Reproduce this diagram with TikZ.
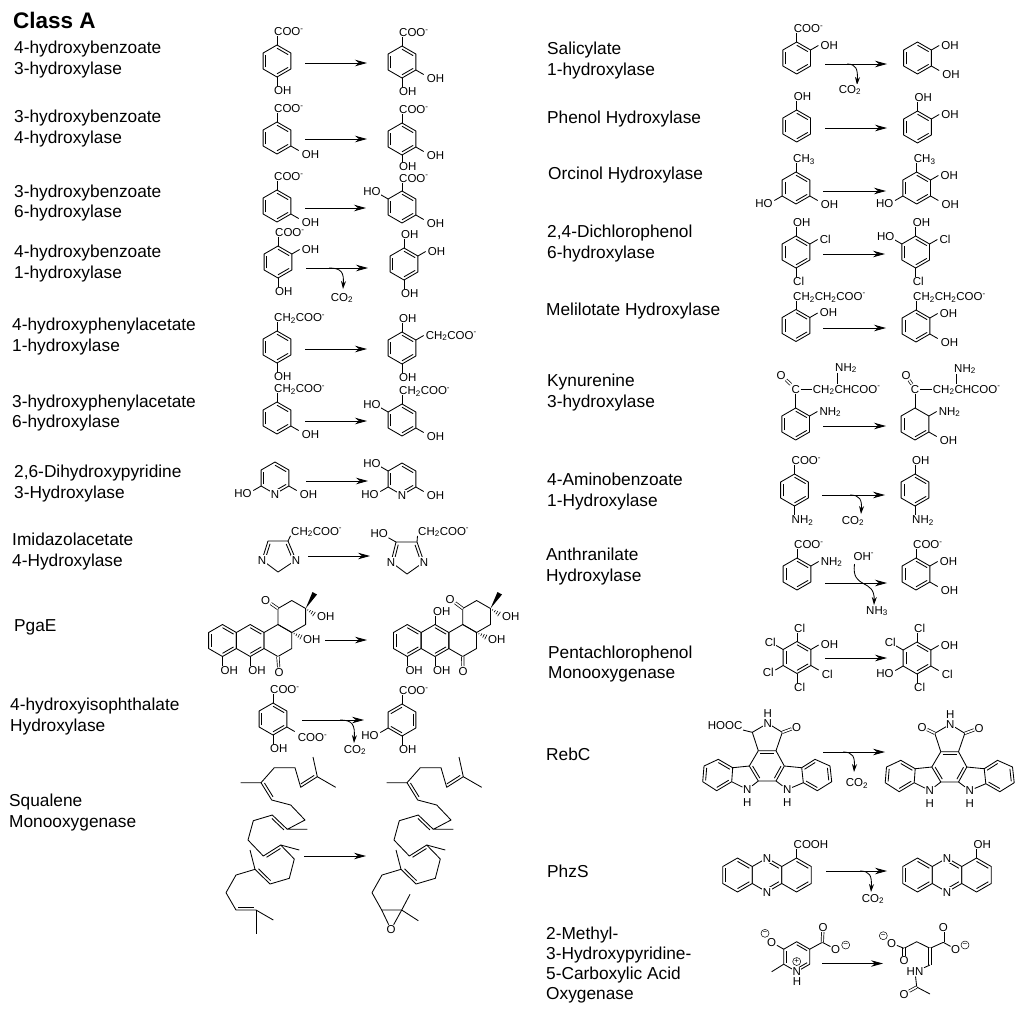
\documentclass[tikz,border=0pt]{standalone}
\usepackage{fontspec}
\setmainfont{Liberation Sans}
\usetikzlibrary{arrows.meta,calc}

\tikzset{
  bond/.style={line width=.85pt,line join=round},
  dbond/.style={line width=.7pt,double,double distance=1.7pt},
  rxnarrow/.style={line width=.85pt,-{Stealth[length=12pt,width=6.5pt]}},
  sidearrow/.style={line width=.85pt,-{Stealth[length=8pt,width=5pt]}},
  atom/.style={fill=white,inner sep=.5pt,text height=8.2pt,text depth=0pt,font=\fontsize{11.5}{11.5}\selectfont},
  chg/.style={circle,draw,fill=white,line width=.5pt,inner sep=0pt,minimum size=8pt,font=\fontsize{8}{8}\selectfont},
  enzyme/.style={anchor=west,align=left,inner sep=0pt,yshift=-1.5pt,font=\fontsize{17.3}{20.2}\selectfont},
  lab1/.style={anchor=south west,xshift=-3.5pt,yshift=-.5pt},
  lab2/.style={anchor=west,xshift=1.5pt,yshift=.5pt},
  lab3/.style={anchor=west,xshift=2.5pt,yshift=-4pt},
  lab4/.style={anchor=north west,xshift=-3.5pt},
  lab5/.style={anchor=east,xshift=-1pt,yshift=-2.5pt},
  lab6/.style={anchor=east,xshift=1pt,yshift=3pt}
}

\newcommand{\coo}{COO\textsuperscript{-}}
\newcommand{\chcoo}{CH\textsubscript{2}COO\textsuperscript{-}}
\newcommand{\cotwo}{CO\textsubscript{2}}

\newcommand{\hexa}[4][16]{
  \coordinate (#2) at (#3,#4);
  \foreach \i in {1,...,6}
    \coordinate (#2-\i) at ({#3+#1*sin(60*(\i-1))},{#4-#1*cos(60*(\i-1))});
  \draw[bond] (#2-1) -- (#2-2) -- (#2-3) -- (#2-4) -- (#2-5) -- (#2-6) -- cycle;
}
\newcommand{\benzring}[5][16]{
  \hexa[#1]{#2}{#3}{#4}
  \foreach \i/\j in {#5}
    \draw[bond] ($(#2)!.8!(#2-\i)$) -- ($(#2)!.8!(#2-\j)$);
}
\newcommand{\atomat}[5][]{
  \path (#3-#4) ++({60*(#4-1)-90}:9) coordinate (#2-end);
  \draw[bond] (#3-#4) -- (#2-end);
  \node[atom,lab#4,#1] (#2) at (#2-end) {#5};
}
\newcommand{\rxn}[4]{
  \coordinate (#1-a) at (#2,#4);
  \coordinate (#1-b) at (#3,#4);
  \draw[rxnarrow] (#1-a) -- (#1-b);
}
\newcommand{\sidearr}[5]{
  \coordinate (#1-a) at (#2,#3);
  \coordinate (#1-b) at (#4,#5);
  \draw[sidearrow] (#1-a) .. controls (#4-1,#3) and (#4+1,#3+5) .. (#1-b);
}
\newcommand{\dblin}[3]{
  \draw[bond] ($(#1)!.1!(#2)!2.8pt!#3:(#2)$) -- ($(#1)!.9!(#2)!2.8pt!#3:(#2)$);
}
\newcommand{\hashw}[4]{
  \foreach \t in {.25,.5,.75,1}
    \draw[line width=.6pt] ({#1+\t*(#3-#1)-\t*.25*(#4-#2)},{#2+\t*(#4-#2)+\t*.25*(#3-#1)})
      -- ({#1+\t*(#3-#1)+\t*.25*(#4-#2)},{#2+\t*(#4-#2)-\t*.25*(#3-#1)});
}
\newcommand{\squalene}{
  \draw[bond] (313,757) -- (317.3,776.7) -- (335.7,787.3);
  \draw[bond] (317.3,776.7) -- (300.7,787.3) -- (295,767.7) -- (274.3,767.7) -- (261,782.7) -- (240.7,782.7);
  \draw[bond] (261,782.7) -- (271.7,800) -- (290.7,805) -- (305,820) -- (287.3,829.3) -- (307.3,829.3);
  \draw[bond] (287.3,829.3) -- (272.3,815) -- (253.3,820.7) -- (248,840) -- (263.3,856) -- (280.7,845) -- (299.3,850);
  \draw[bond] (280.7,845) -- (294.3,859) -- (289.3,878.3) -- (270,884) -- (255,869.3) -- (250,850);
  \draw[bond] (255,869.3) -- (236,875) -- (226,892.7);
  \dblin{317.3,776.7}{300.7,787.3}{-90}
  \dblin{261,782.7}{271.7,800}{90}
  \dblin{287.3,829.3}{272.3,815}{90}
  \dblin{263.3,856}{280.7,845}{-90}
  \dblin{270,884}{255,869.3}{-90}
}
\newcommand{\rebcore}[1]{
  \coordinate (#1-c1) at (758.3,750.7);
  \coordinate (#1-c2) at (776,750.7);
  \coordinate (#1-c3) at (784.3,766);
  \coordinate (#1-c4) at (776,781);
  \coordinate (#1-c5) at (758.3,781);
  \coordinate (#1-c6) at (749.3,766);
  \coordinate (#1-l1) at (718.3,759.3);
  \coordinate (#1-l2) at (732.7,767.7);
  \coordinate (#1-l3) at (731.7,781.7);
  \coordinate (#1-l4) at (716.7,790.7);
  \coordinate (#1-l5) at (702.7,781.7);
  \coordinate (#1-l6) at (704,766);
  \coordinate (#1-r1) at (815,759.3);
  \coordinate (#1-r2) at (830,766);
  \coordinate (#1-r3) at (831.7,781.7);
  \coordinate (#1-r4) at (817.3,790.7);
  \coordinate (#1-r5) at (803.3,782.7);
  \coordinate (#1-r6) at (801.7,767.7);
  \coordinate (#1-t1) at (752.3,732.3);
  \coordinate (#1-t2) at (767.7,723.3);
  \coordinate (#1-t3) at (782.3,732.3);
  \draw[bond] (#1-c1) -- (#1-c2) -- (#1-c3) -- (#1-c4) -- (#1-c5) -- (#1-c6) -- cycle;
  \draw[bond] (#1-l1) -- (#1-l2) -- (#1-l3) -- (#1-l4) -- (#1-l5) -- (#1-l6) -- cycle;
  \draw[bond] (#1-r1) -- (#1-r2) -- (#1-r3) -- (#1-r4) -- (#1-r5) -- (#1-r6) -- cycle;
  \draw[bond] (#1-c1) -- (#1-t1) -- (#1-t2) -- (#1-t3) -- (#1-c2);
  \draw[bond] (#1-l2) -- (#1-c6);
  \draw[bond] (#1-r6) -- (#1-c3);
  \dblin{#1-c1}{#1-c2}{-90}
  \dblin{#1-c6}{#1-c5}{90}
  \dblin{#1-c3}{#1-c4}{-90}
  \dblin{#1-l1}{#1-l2}{-90}
  \dblin{#1-l3}{#1-l4}{-90}
  \dblin{#1-l5}{#1-l6}{-90}
  \dblin{#1-r1}{#1-r6}{90}
  \dblin{#1-r2}{#1-r3}{-90}
  \dblin{#1-r4}{#1-r5}{-90}
  \node[atom] (#1-nl) at (747.3,789.5) {N};
  \node[atom] (#1-hl) at (747.3,802) {H};
  \node[atom] (#1-nr) at (787.3,789.5) {N};
  \node[atom] (#1-hr) at (787.3,802) {H};
  \draw[bond] (#1-c5) -- (#1-nl) -- (#1-l3);
  \draw[bond] (#1-c4) -- (#1-nr) -- (#1-r5);
  \node[atom] (#1-nt) at (767.7,723.3) {N};
  \node[atom] (#1-ht) at (767.7,713) {H};
  \node[atom] (#1-or) at (796.7,727) {O};
  \draw[dbond] (#1-t3) -- (#1-or);
}

\begin{document}
\begin{tikzpicture}[x=1pt,y=-1pt]
    \useasboundingbox (0,0) rectangle (1024,1013);

    \node[anchor=west,inner sep=0pt,font=\fontsize{22.5}{24}\selectfont\bfseries] (title) at (13,20) {Class A};

    \node[enzyme] (e-a1) at (14,58) {4-hydroxybenzoate\\3-hydroxylase};
    \node[enzyme] (e-a2) at (14,127) {3-hydroxybenzoate\\4-hydroxylase};
    \node[enzyme] (e-a3) at (14,201.5) {3-hydroxybenzoate\\6-hydroxylase};
    \node[enzyme] (e-a4) at (14,262) {4-hydroxybenzoate\\1-hydroxylase};
    \node[enzyme] (e-a5) at (12,335) {4-hydroxyphenylacetate\\1-hydroxylase};
    \node[enzyme] (e-a6) at (12,411.5) {3-hydroxyphenylacetate\\6-hydroxylase};
    \node[enzyme] (e-a7) at (14,482) {2,6-Dihydroxypyridine\\3-Hydroxylase};
    \node[enzyme] (e-a8) at (12,550) {Imidazolacetate\\4-Hydroxylase};
    \node[enzyme] (e-a9) at (14,626) {PgaE};
    \node[enzyme] (e-a10) at (10,715) {4-hydroxyisophthalate\\Hydroxylase};
    \node[enzyme] (e-a11) at (9,811) {Squalene\\Monooxygenase};

    \node[enzyme] (e-b1) at (547,59) {Salicylate\\1-hydroxylase};
    \node[enzyme] (e-b2) at (547,118) {Phenol Hydroxylase};
    \node[enzyme] (e-b3) at (548,174) {Orcinol Hydroxylase};
    \node[enzyme] (e-b4) at (547,242) {2,4-Dichlorophenol\\6-hydroxylase};
    \node[enzyme] (e-b5) at (546,310) {Melilotate Hydroxylase};
    \node[enzyme] (e-b6) at (547,391) {Kynurenine\\3-hydroxylase};
    \node[enzyme] (e-b7) at (547,490) {4-Aminobenzoate\\1-Hydroxylase};
    \node[enzyme] (e-b8) at (546,565) {Anthranilate\\Hydroxylase};
    \node[enzyme] (e-b9) at (548,662.5) {Pentachlorophenol\\Monooxygenase};
    \node[enzyme] (e-b10) at (546,753) {RebC};
    \node[enzyme] (e-b11) at (547,870) {PhzS};
    \node[enzyme] (e-b12) at (546,963.5) {2-Methyl-\\3-Hydroxypyridine-\\5-Carboxylic Acid\\Oxygenase};

    \benzring{a1s}{277}{61}{1/2,3/4,5/6}
    \atomat{a1s-coo}{a1s}{1}{\coo}
    \atomat{a1s-oh}{a1s}{4}{OH}
    \rxn{a1}{305}{367}{63}
    \benzring{a1p}{402}{62}{1/2,3/4,5/6}
    \atomat{a1p-coo}{a1p}{1}{\coo}
    \atomat{a1p-oh3}{a1p}{3}{OH}
    \atomat{a1p-oh4}{a1p}{4}{OH}

    \benzring{a2s}{277}{138}{1/2,3/4,5/6}
    \atomat{a2s-coo}{a2s}{1}{\coo}
    \atomat{a2s-oh}{a2s}{3}{OH}
    \rxn{a2}{305}{367}{139}
    \benzring{a2p}{402}{139}{1/2,3/4,5/6}
    \atomat{a2p-coo}{a2p}{1}{\coo}
    \atomat{a2p-oh3}{a2p}{3}{OH}
    \atomat[yshift=2.5pt]{a2p-oh4}{a2p}{4}{OH}

    \benzring{a3s}{277}{206}{1/2,3/4,5/6}
    \atomat{a3s-coo}{a3s}{1}{\coo}
    \atomat{a3s-oh}{a3s}{3}{OH}
    \rxn{a3}{305}{366}{208}
    \benzring{a3p}{402}{207}{1/2,3/4,5/6}
    \atomat[yshift=-.5pt]{a3p-coo}{a3p}{1}{\coo}
    \atomat{a3p-ho}{a3p}{6}{HO}
    \atomat{a3p-oh}{a3p}{3}{OH}

    \benzring{a4s}{278}{262}{1/2,3/4,5/6}
    \atomat{a4s-coo}{a4s}{1}{\coo}
    \atomat{a4s-oh2}{a4s}{2}{OH}
    \atomat{a4s-oh4}{a4s}{4}{OH}
    \rxn{a4}{306}{368}{268}
    \sidearr{a4c}{329}{268}{343}{289}
    \node[atom] (a4-co) at (342,297) {\cotwo};
    \benzring{a4p}{404}{264}{1/2,3/4,5/6}
    \atomat{a4p-oh1}{a4p}{1}{OH}
    \atomat{a4p-oh2}{a4p}{2}{OH}
    \atomat{a4p-oh4}{a4p}{4}{OH}

    \benzring{a5s}{277}{347}{1/2,3/4,5/6}
    \atomat{a5s-ch}{a5s}{1}{\chcoo}
    \atomat{a5s-oh}{a5s}{4}{OH}
    \rxn{a5}{305}{367}{349}
    \benzring{a5p}{402}{348}{1/2,3/4,5/6}
    \atomat{a5p-oh1}{a5p}{1}{OH}
    \atomat{a5p-ch}{a5p}{2}{\chcoo}
    \atomat{a5p-oh4}{a5p}{4}{OH}

    \benzring{a6s}{277}{418}{1/2,3/4,5/6}
    \atomat{a6s-ch}{a6s}{1}{\chcoo}
    \atomat{a6s-oh}{a6s}{3}{OH}
    \rxn{a6}{305}{367}{421}
    \benzring{a6p}{402}{420}{1/2,3/4,5/6}
    \atomat{a6p-ch}{a6p}{1}{\chcoo}
    \atomat{a6p-ho}{a6p}{6}{HO}
    \atomat{a6p-oh}{a6p}{3}{OH}

    \benzring{a7s}{275}{478}{1/2,3/4,5/6}
    \node[atom] (a7s-n) at (275,494) {N};
    \atomat{a7s-ho}{a7s}{5}{HO}
    \atomat{a7s-oh}{a7s}{3}{OH}
    \rxn{a7}{306}{368}{481}
    \benzring{a7p}{402}{479}{1/2,3/4,5/6}
    \node[atom] (a7p-n) at (402,495) {N};
    \atomat{a7p-ho6}{a7p}{6}{HO}
    \atomat{a7p-ho5}{a7p}{5}{HO}
    \atomat{a7p-oh}{a7p}{3}{OH}

    \coordinate (a8s-a) at (268,541);
    \coordinate (a8s-b) at (288,541);
    \coordinate (a8s-c) at (296,560);
    \coordinate (a8s-d) at (278,572);
    \coordinate (a8s-e) at (262,560);
    \draw[bond] (a8s-a) -- (a8s-b) -- (a8s-c) -- (a8s-d) -- (a8s-e) -- cycle;
    \dblin{a8s-a}{a8s-e}{90}
    \dblin{a8s-b}{a8s-c}{-90}
    \node[atom] (a8s-n1) at (262,560) {N};
    \node[atom] (a8s-n2) at (296,560) {N};
    \node[atom,anchor=west] (a8s-ch) at (290.5,531) {\chcoo};
    \draw[bond] (a8s-b) -- (a8s-ch.south west);
    \rxn{a8}{308}{370}{556}
    \coordinate (a8p-a) at (396,542);
    \coordinate (a8p-b) at (417,542);
    \coordinate (a8p-c) at (424,562);
    \coordinate (a8p-d) at (407,574);
    \coordinate (a8p-e) at (391,562);
    \draw[bond] (a8p-a) -- (a8p-b) -- (a8p-c) -- (a8p-d) -- (a8p-e) -- cycle;
    \dblin{a8p-a}{a8p-e}{90}
    \dblin{a8p-b}{a8p-c}{-90}
    \node[atom] (a8p-n1) at (391,562) {N};
    \node[atom] (a8p-n2) at (424,562) {N};
    \node[atom,anchor=west] (a8p-ch) at (417.5,531) {\chcoo};
    \node[atom,anchor=east] (a8p-ho) at (388.5,533) {HO};
    \draw[bond] (a8p-b) -- (a8p-ch.south west);
    \draw[bond] (a8p-a) -- (a8p-ho.south east);

    \benzring{p1a}{222.5}{640.5}{1/2,3/4,5/6}
    \benzring{p1b}{250.2}{640.5}{1/2,3/4}
    \hexa{p1c}{277.9}{640.5}
    \hexa{p1d}{291.8}{616.5}
    \atomat[xshift=1pt]{p1-oh1}{p1a}{4}{OH}
    \atomat[xshift=1pt]{p1-oh2}{p1b}{4}{OH}
    \node[atom] (p1-o1) at (279,672) {O};
    \draw[dbond] (p1c-4) -- (p1-o1);
    \node[atom] (p1-o2) at (265.7,600) {O};
    \draw[dbond] (p1d-6) -- (p1-o2);
    \fill (p1d-2) -- (317,594.5) -- (312.5,592) -- cycle;
    \hashw{305.7}{608.5}{314}{614}
    \node[atom,anchor=west] (p1-oh3) at (316.5,616) {OH};
    \hashw{291.8}{632.5}{301}{637}
    \node[atom,anchor=west] (p1-oh4) at (302.5,639) {OH};
    \rxn{p1}{325}{367}{640}
    \benzring{p2a}{407.3}{640.5}{1/2,3/4,5/6}
    \benzring{p2b}{435}{640.5}{1/2,3/4}
    \hexa{p2c}{462.7}{640.5}
    \hexa{p2d}{476.6}{616.5}
    \atomat[xshift=1pt]{p2-oh1}{p2a}{4}{OH}
    \atomat[xshift=1pt]{p2-oh2}{p2b}{4}{OH}
    \atomat[xshift=1pt]{p2-oh5}{p2b}{1}{OH}
    \node[atom] (p2-o1) at (463,671) {O};
    \draw[dbond] (p2c-4) -- (p2-o1);
    \node[atom] (p2-o2) at (450,599) {O};
    \draw[dbond] (p2d-6) -- (p2-o2);
    \fill (p2d-2) -- (502,594.5) -- (497.5,592) -- cycle;
    \hashw{490.5}{608.5}{499}{614}
    \node[atom,anchor=west] (p2-oh3) at (501.5,616) {OH};
    \hashw{476.6}{632.5}{485.8}{637}
    \node[atom,anchor=west] (p2-oh4) at (487.5,639) {OH};

    \benzring{a10s}{273}{719}{1/2,3/4,5/6}
    \atomat{a10s-coo}{a10s}{1}{\coo}
    \atomat[yshift=-2pt]{a10s-coo2}{a10s}{3}{\coo}
    \atomat{a10s-oh}{a10s}{4}{OH}
    \rxn{a10}{302}{364}{720}
    \sidearr{a10c}{340}{720}{354}{743}
    \node[atom] (a10-co) at (355,749) {\cotwo};
    \benzring{a10p}{402}{720}{6/1,2/3,4/5}
    \atomat{a10p-coo}{a10p}{1}{\coo}
    \atomat{a10p-ho}{a10p}{5}{HO}
    \atomat{a10p-oh}{a10p}{4}{OH}

    \squalene
    \draw[bond] (226,892.7) -- (236,910) -- (256,910) -- (273.3,920);
    \draw[bond] (256,910) -- (256,934.3);
    \dblin{236,910}{256,910}{90}
    \rxn{a11}{304}{366}{856}
    \begin{scope}[xshift=146pt]
      \squalene
    \end{scope}
    \coordinate (a11p-a) at (381.7,910);
    \coordinate (a11p-b) at (401.7,910);
    \node[atom] (a11p-o) at (391,929.5) {O};
    \draw[bond] (372,892.7) -- (a11p-a) -- (a11p-b);
    \draw[bond] (a11p-b) -- (410,894.3);
    \draw[bond] (a11p-b) -- (418.3,920.7);
    \draw[bond] (a11p-a) -- (a11p-o) -- (a11p-b);

    \benzring{b1s}{796.7}{58}{1/2,3/4,5/6}
    \atomat{b1s-coo}{b1s}{1}{\coo}
    \atomat{b1s-oh}{b1s}{2}{OH}
    \rxn{b1}{825}{887}{64}
    \sidearr{b1c}{847}{64}{857}{85}
    \node[atom] (b1-co) at (850,89) {\cotwo};
    \benzring{b1p}{917.5}{58}{1/2,3/4,5/6}
    \atomat{b1p-oh2}{b1p}{2}{OH}
    \atomat{b1p-oh3}{b1p}{3}{OH}

    \benzring{b2s}{796.7}{126}{1/2,3/4,5/6}
    \atomat{b2s-oh}{b2s}{1}{OH}
    \rxn{b2}{825}{887}{128}
    \benzring{b2p}{917.5}{127}{1/2,3/4,5/6}
    \atomat{b2p-oh1}{b2p}{1}{OH}
    \atomat{b2p-oh2}{b2p}{2}{OH}

    \benzring{b3s}{796}{188}{1/2,3/4,5/6}
    \atomat{b3s-ch}{b3s}{1}{CH\textsubscript{3}}
    \atomat{b3s-ho}{b3s}{5}{HO}
    \atomat{b3s-oh}{b3s}{3}{OH}
    \rxn{b3}{823}{886}{191}
    \benzring{b3p}{916.7}{188}{1/2,3/4,5/6}
    \atomat{b3p-ch}{b3p}{1}{CH\textsubscript{3}}
    \atomat{b3p-oh2}{b3p}{2}{OH}
    \atomat{b3p-oh3}{b3p}{3}{OH}
    \atomat{b3p-ho}{b3p}{5}{HO}

    \benzring{b4s}{796}{252}{1/2,3/4,5/6}
    \atomat{b4s-oh}{b4s}{1}{OH}
    \atomat{b4s-cl2}{b4s}{2}{Cl}
    \atomat{b4s-cl4}{b4s}{4}{Cl}
    \rxn{b4}{823}{885}{254}
    \benzring{b4p}{915.7}{252}{1/2,3/4,5/6}
    \atomat{b4p-oh}{b4p}{1}{OH}
    \atomat{b4p-ho}{b4p}{6}{HO}
    \atomat{b4p-cl2}{b4p}{2}{Cl}
    \atomat{b4p-cl4}{b4p}{4}{Cl}

    \benzring{b5s}{796}{325.5}{1/2,3/4,5/6}
    \atomat{b5s-ch}{b5s}{1}{CH\textsubscript{2}CH\textsubscript{2}COO\textsuperscript{-}}
    \atomat{b5s-oh}{b5s}{2}{OH}
    \rxn{b5}{823}{886}{328}
    \benzring{b5p}{916}{326}{1/2,3/4,5/6}
    \atomat{b5p-ch}{b5p}{1}{CH\textsubscript{2}CH\textsubscript{2}COO\textsuperscript{-}}
    \atomat{b5p-oh2}{b5p}{2}{OH}
    \atomat{b5p-oh3}{b5p}{3}{OH}

    \benzring{b6s}{795.7}{424}{1/2,3/4,5/6}
    \node[atom] (b6s-c) at (795.7,389) {C};
    \node[atom] (b6s-o) at (781,375) {O};
    \node[atom,anchor=west] (b6s-ch) at (812.2,389) {CH\textsubscript{2}CHCOO\textsuperscript{-}};
    \node[atom,anchor=west] (b6s-nh) at (834.5,367) {NH\textsubscript{2}};
    \draw[bond] (b6s-1) -- (b6s-c);
    \draw[dbond] (b6s-c) -- (b6s-o);
    \draw[bond] (b6s-c) -- (b6s-ch);
    \draw[bond] (b6s-nh.south west) ++(3,1) -- ++(0,11);
    \atomat{b6s-nh2}{b6s}{2}{NH\textsubscript{2}}
    \rxn{b6}{823}{886}{426}
    \benzring{b6p}{915}{424}{3/4,5/6}
    \node[atom] (b6p-c) at (915,389) {C};
    \node[atom] (b6p-o) at (906,375.5) {O};
    \node[atom,anchor=west] (b6p-ch) at (932.2,389) {CH\textsubscript{2}CHCOO\textsuperscript{-}};
    \node[atom,anchor=west] (b6p-nh) at (953.5,368) {NH\textsubscript{2}};
    \draw[bond] (b6p-1) -- (b6p-c);
    \draw[dbond] (b6p-c) -- (b6p-o);
    \draw[bond] (b6p-c) -- (b6p-ch);
    \draw[bond] (b6p-nh.south west) ++(3,1) -- ++(0,10);
    \atomat{b6p-nh2}{b6p}{2}{NH\textsubscript{2}}
    \atomat{b6p-oh}{b6p}{3}{OH}

    \benzring{b7s}{794.5}{490}{1/2,3/4,5/6}
    \atomat{b7s-coo}{b7s}{1}{\coo}
    \atomat{b7s-nh}{b7s}{4}{NH\textsubscript{2}}
    \rxn{b7}{822}{885}{495}
    \sidearr{b7c}{850}{495}{861}{514}
    \node[atom] (b7-co) at (853,520) {\cotwo};
    \benzring{b7p}{915}{490}{1/2,3/4,5/6}
    \atomat{b7p-oh}{b7p}{1}{OH}
    \atomat{b7p-nh}{b7p}{4}{NH\textsubscript{2}}

    \benzring{b8s}{797}{574}{1/2,3/4,5/6}
    \atomat{b8s-coo}{b8s}{1}{\coo}
    \atomat{b8s-nh}{b8s}{2}{NH\textsubscript{2}}
    \rxn{b8}{825}{887}{583}
    \node[atom,anchor=west] (b8-oh) at (853,556) {OH\textsuperscript{-}};
    \node[atom,anchor=west] (b8-nh) at (865.5,610) {NH\textsubscript{3}};
    \coordinate (b8c-a) at (854.5,564);
    \coordinate (b8c-b) at (874,605);
    \draw[sidearrow] (b8c-a) .. controls (851,590) and (875,578) .. (b8c-b);
    \benzring{b8p}{916}{574}{1/2,3/4,5/6}
    \atomat{b8p-coo}{b8p}{1}{\coo}
    \atomat{b8p-oh2}{b8p}{2}{OH}
    \atomat{b8p-oh3}{b8p}{3}{OH}

    \benzring{b9s}{797}{657.5}{1/2,3/4,5/6}
    \atomat{b9s-cl1}{b9s}{1}{Cl}
    \atomat{b9s-oh}{b9s}{2}{OH}
    \atomat{b9s-cl3}{b9s}{3}{Cl}
    \atomat{b9s-cl4}{b9s}{4}{Cl}
    \atomat{b9s-cl5}{b9s}{5}{Cl}
    \atomat{b9s-cl6}{b9s}{6}{Cl}
    \rxn{b9}{825}{887}{658}
    \benzring{b9p}{917}{658}{1/2,3/4,5/6}
    \atomat{b9p-cl1}{b9p}{1}{Cl}
    \atomat{b9p-oh}{b9p}{2}{OH}
    \atomat{b9p-cl3}{b9p}{3}{Cl}
    \atomat{b9p-cl4}{b9p}{4}{Cl}
    \atomat{b9p-ho}{b9p}{5}{HO}
    \atomat{b9p-cl6}{b9p}{6}{Cl}

    \rebcore{b10s}
    \node[atom,anchor=east] (b10s-cooh) at (743,725.7) {HOOC};
    \draw[bond] (b10s-t1) -- (b10s-cooh);
    \rxn{b10}{823}{885}{752}
    \sidearr{b10c}{843}{752}{854}{772}
    \node[atom] (b10-co) at (857,782.5) {\cotwo};
    \begin{scope}[shift={(182.5,1)}]
      \rebcore{b10p}
      \node[atom] (b10p-ol) at (739.5,726) {O};
      \draw[dbond] (b10p-t1) -- (b10p-ol);
    \end{scope}

    \benzring[17]{b11a}{737.5}{875}{1/2,3/4,5/6}
    \benzring[17]{b11b}{767}{875}{1/2,3/4}
    \benzring[17]{b11c}{796.5}{875}{1/2,3/4}
    \node[atom] (b11-n1) at (767,858) {N};
    \node[atom] (b11-n2) at (767,892) {N};
    \atomat{b11-cooh}{b11c}{1}{COOH}
    \rxn{b11}{826}{887}{871}
    \sidearr{b11d}{860}{871}{871}{892}
    \node[atom] (b11-co) at (873,898) {\cotwo};
    \benzring[17]{b11p}{917.5}{875}{1/2,3/4,5/6}
    \benzring[17]{b11q}{947}{875}{1/2,3/4}
    \benzring[17]{b11r}{976.5}{875}{1/2,3/4}
    \node[atom] (b11p-n1) at (947,858) {N};
    \node[atom] (b11p-n2) at (947,892) {N};
    \atomat{b11p-oh}{b11r}{1}{OH}

    \benzring[15]{b12s}{796.7}{956.7}{1/2,3/4,5/6}
    \node[atom] (b12s-n) at (796.7,971.7) {N};
    \node[atom] (b12s-h) at (797,981.5) {H};
    \node[chg] (b12s-p) at (796.7,961.5) {+};
    \node[atom] (b12s-o) at (771.7,942.3) {O};
    \node[chg] (b12s-m) at (765,933.3) {−};
    \coordinate (b12s-me) at (771.7,971.7);
    \coordinate (b12s-c) at (822.3,942.3);
    \node[atom] (b12s-o1) at (823,927.3) {O};
    \node[atom] (b12s-o2) at (835.7,949.3) {O};
    \node[chg] (b12s-m2) at (845.7,945) {−};
    \draw[bond] (b12s-6) -- (b12s-o);
    \draw[bond] (b12s-5) -- (b12s-me);
    \draw[bond] (b12s-2) -- (b12s-c) -- (b12s-o2);
    \draw[dbond] (b12s-c) -- (b12s-o1);
    \rxn{b12}{822}{883}{963.5}
    \coordinate (b12p-a) at (930,948.3);
    \coordinate (b12p-b) at (943.3,942.3);
    \coordinate (b12p-c) at (916.7,941.7);
    \coordinate (b12p-d) at (904,948.3);
    \coordinate (b12p-e) at (930,965);
    \coordinate (b12p-f) at (916.7,987);
    \coordinate (b12p-me) at (930,994);
    \node[atom] (b12p-o1) at (943.3,927.3) {O};
    \node[atom] (b12p-o2) at (955.7,949.3) {O};
    \node[chg] (b12p-m2) at (965,945) {−};
    \node[atom] (b12p-o3) at (904,960.7) {O};
    \node[atom] (b12p-o4) at (891.7,943.3) {O};
    \node[chg] (b12p-m4) at (883.3,935.7) {−};
    \node[atom,anchor=west] (b12p-hn) at (906,971.7) {HN};
    \node[atom] (b12p-o5) at (904,994) {O};
    \draw[bond] (b12p-d) -- (b12p-c) -- (b12p-a) -- (b12p-b) -- (b12p-o2);
    \draw[dbond] (b12p-b) -- (b12p-o1);
    \draw[dbond] (b12p-d) -- (b12p-o3);
    \draw[bond] (b12p-d) -- (b12p-o4);
    \draw[dbond] (b12p-a) -- (b12p-e);
    \draw[bond] (b12p-e) -- (b12p-hn);
    \draw[bond] (b12p-hn) -- (b12p-f) -- (b12p-me);
    \draw[dbond] (b12p-f) -- (b12p-o5);
\end{tikzpicture}
\end{document}
